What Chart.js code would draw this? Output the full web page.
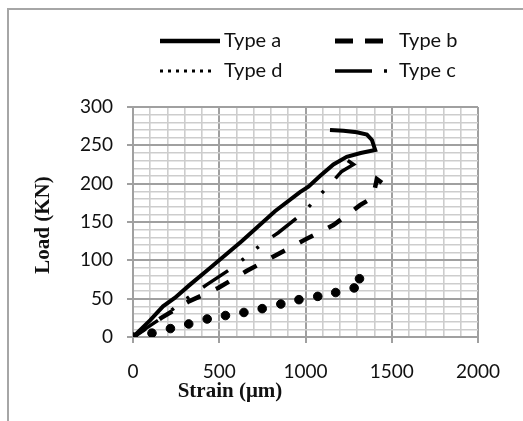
<!DOCTYPE html>
<html>
<head>
<meta charset="utf-8">
<script src="https://cdn.jsdelivr.net/npm/chart.js@4"></script>
<style>
  body { margin: 0; background: #fff; }
  #wrap { position: relative; width: 523px; height: 421px; overflow: hidden; }
  #frame { position: absolute; left: 7px; top: 8px; width: 530px; height: 430px; border: 2px solid #a6a6a6; box-sizing: border-box; pointer-events: none; }
  canvas { position: absolute; left: 0; top: 0; }
</style>
</head>
<body>
<div id="wrap">
  <canvas id="chart" width="523" height="421"></canvas>
  <div id="frame"></div>
</div>
<script>
// values: strain (µm) and load (KN)
const labels = ['Type a', 'Type b', 'Type c', 'Type d'];

const strainA = [0, 100, 174, 242, 329, 436, 630, 823, 968, 1017, 1084, 1162, 1239, 1320, 1404, 1385, 1356, 1298, 1220, 1142];
const loadA   = [0, 22, 40, 51, 68, 88, 125, 164, 189, 196, 210, 225, 235, 240, 244, 257, 264, 267, 269, 270];

const strainB = [0, 164, 320, 494, 658, 823, 997, 1162, 1240, 1316, 1390, 1414, 1475];
const loadB   = [0, 25, 46, 64, 86, 106, 127, 146, 159, 172, 182, 206, 196];

const strainC = [0, 160, 246, 335, 426, 581, 664, 751, 842, 987, 1061, 1138, 1210, 1278, 1181];
const loadC   = [0, 24, 39, 54, 68, 91, 106, 122, 136, 162, 180, 198, 216, 225, 240];

const strainD = [0, 110, 217, 323, 430, 536, 643, 749, 857, 962, 1071, 1175, 1282, 1313];
const loadD   = [0, 5, 11, 17, 23.5, 28, 32, 37, 43, 48.7, 53, 58, 64, 76];

const xTicks = [0, 500, 1000, 1500, 2000];
const yTicks = [0, 50, 100, 150, 200, 250, 300];

function pts(xs, ys) {
    return xs.map((x, i) => ({ x: x, y: ys[i] }));
}

Chart.defaults.font.family = 'Lato';
Chart.defaults.font.size = 19;
Chart.defaults.color = '#111';

const legendSlots = [
    { ds: 0, x: 160, y: 41, w: 60, tx: 224 },
    { ds: 1, x: 335, y: 41, w: 48, tx: 399 },
    { ds: 3, x: 160, y: 71, w: 56, tx: 224 },
    { ds: 2, x: 335, y: 71, w: 53, tx: 399 }
];

const legendDash = { 0: [], 1: [18, 12], 2: [37, 12, 3, 100], 3: [3, 5] };
const legendWidth = { 0: 4.5, 1: 5, 2: 3.5, 3: 3 };

const overlay = {
    id: 'overlay',
    afterDraw(chart) {
        const ctx = chart.ctx;
        ctx.save();
        // legend
        legendSlots.forEach(s => {
            const ds = chart.data.datasets[s.ds];
            ctx.beginPath();
            ctx.setLineDash(legendDash[s.ds]);
            ctx.lineWidth = legendWidth[s.ds];
            ctx.strokeStyle = '#000';
            ctx.moveTo(s.x, s.y);
            ctx.lineTo(s.x + s.w, s.y);
            ctx.stroke();
            ctx.setLineDash([]);
            ctx.fillStyle = '#111';
            ctx.font = '20px Lato';
            ctx.textAlign = 'left';
            ctx.textBaseline = 'middle';
            ctx.fillText(ds.label, s.tx, s.y);
        });
        // axis titles
        ctx.fillStyle = '#111';
        ctx.font = 'bold 21px "Liberation Serif"';
        ctx.textAlign = 'center';
        ctx.textBaseline = 'middle';
        ctx.fillText('Strain (μm)', 230, 392);
        ctx.translate(44, 225);
        ctx.rotate(-Math.PI / 2);
        ctx.fillText('Load (KN)', 0, 0);
        ctx.restore();
    }
};

const isMajorX = v => xTicks.includes(v);
const isMajorY = v => yTicks.includes(v);

new Chart(document.getElementById('chart'), {
    type: 'scatter',
    data: {
        datasets: [
            { label: labels[0], data: pts(strainA, loadA), showLine: true, borderColor: '#000', borderWidth: 4, pointRadius: 0 },
            { label: labels[1], data: pts(strainB, loadB), showLine: true, borderColor: '#000', borderWidth: 4.5, borderDash: [15, 17], pointRadius: 0 },
            { label: labels[2], data: pts(strainC, loadC), showLine: true, borderColor: '#000', borderWidth: 3.5, borderDash: [30, 17, 3, 16, 3, 17], pointRadius: 0 },
            { label: labels[3], data: pts(strainD, loadD), showLine: false, backgroundColor: '#000', borderColor: '#000', pointRadius: 4.3 }
        ]
    },
    options: {
        responsive: false,
        animation: false,
        layout: { padding: { left: 0, top: 107, right: 45, bottom: 0 } },
        plugins: { legend: { display: false }, tooltip: { enabled: false } },
        scales: {
            x: {
                type: 'linear', min: 0, max: 2000,
                afterFit: s => { s.height = 84; },
                ticks: { stepSize: 100, autoSkip: false, padding: 17, maxRotation: 0,
                    callback: v => isMajorX(v) ? v : '' },
                grid: {
                    color: c => isMajorX(c.tick.value) ? '#a0a0a0' : '#cdcdcd',
                    lineWidth: c => isMajorX(c.tick.value) ? 2 : 1.6,
                    tickColor: c => isMajorX(c.tick.value) ? '#a0a0a0' : 'rgba(0,0,0,0)',
                    tickLength: 6
                },
                border: { color: '#a0a0a0', width: 2 }
            },
            y: {
                type: 'linear', min: 0, max: 300,
                afterFit: s => { s.width = 133; },
                ticks: { stepSize: 10, autoSkip: false, padding: 14,
                    callback: v => isMajorY(v) ? v : '' },
                grid: {
                    color: c => isMajorY(c.tick.value) ? '#a0a0a0' : '#cdcdcd',
                    lineWidth: c => isMajorY(c.tick.value) ? 2 : 1.6,
                    tickColor: c => isMajorY(c.tick.value) ? '#a0a0a0' : 'rgba(0,0,0,0)',
                    tickLength: 6
                },
                border: { color: '#a0a0a0', width: 2 }
            }
        }
    },
    plugins: [overlay]
});
</script>
</body>
</html>
